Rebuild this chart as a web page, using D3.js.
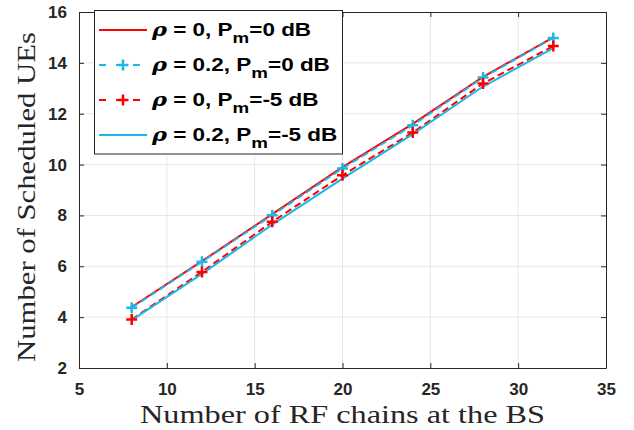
<!DOCTYPE html>
<html>
<head>
<meta charset="utf-8">
<script src="https://cdn.jsdelivr.net/npm/d3@7"></script>
<style>
  body { margin: 0; background: #fff; }
  .tick text { font-family: "Liberation Sans", Arial, sans-serif; font-weight: bold; font-size: 17px; fill: #262626; }
  .axisTitle { font-family: "Liberation Serif", "DejaVu Serif", serif; font-size: 26px; fill: #262626; }
  .legText { font-family: "Liberation Sans", Arial, sans-serif; font-weight: bold; font-size: 18px; fill: #000; }
</style>
</head>
<body>
<svg id="chart" width="634" height="430"></svg>
<script>
// Data
let rfChains = [8, 12, 16, 20, 24, 28, 32],
    rho0_p0 = [4.40, 6.20, 8.05, 9.90, 11.60, 13.45, 15.00],
    rho02_p0 = [4.37, 6.18, 8.01, 9.85, 11.55, 13.42, 14.98],
    rho0_p5 = [3.91, 5.78, 7.75, 9.58, 11.26, 13.19, 14.66],
    rho02_p5 = [3.88, 5.70, 7.64, 9.45, 11.20, 13.07, 14.58],
    xTicks = [5, 10, 15, 20, 25, 30, 35],
    yTicks = [2, 4, 6, 8, 10, 12, 14, 16];

let red = '#ff0000', cyan = '#1cb8e6';

let series = [
    { rho: '0', pm: '=0 dB', values: rho0_p0, color: red, dashed: false, marker: false },
    { rho: '0.2', pm: '=0 dB', values: rho02_p0, color: cyan, dashed: true, marker: true },
    { rho: '0', pm: '=-5 dB', values: rho0_p5, color: red, dashed: true, marker: true },
    { rho: '0.2', pm: '=-5 dB', values: rho02_p5, color: cyan, dashed: false, marker: false }
];

let svg = d3.select('#chart'),
    pLeft = 79, pRight = 606, pTop = 12, pBottom = 368;

let x = d3.scaleLinear().domain([5, 35]).range([pLeft, pRight]),
    y = d3.scaleLinear().domain([2, 16]).range([pBottom, pTop]);

// Grid
svg.append('g').selectAll('line').data(xTicks.slice(1, -1)).enter().append('line')
    .attr('x1', d => x(d)).attr('x2', d => x(d)).attr('y1', pTop).attr('y2', pBottom)
    .attr('stroke', '#e6e6e6').attr('stroke-width', 1);
svg.append('g').selectAll('line').data(yTicks.slice(1, -1)).enter().append('line')
    .attr('y1', d => y(d)).attr('y2', d => y(d)).attr('x1', pLeft).attr('x2', pRight)
    .attr('stroke', '#e6e6e6').attr('stroke-width', 1);

// Axes with inward ticks
let axB = svg.append('g').attr('transform', `translate(0,${pBottom})`)
    .call(d3.axisBottom(x).tickValues(xTicks).tickSizeInner(-5).tickSizeOuter(0).tickPadding(13));
let axL = svg.append('g').attr('transform', `translate(${pLeft},0)`)
    .call(d3.axisLeft(y).tickValues(yTicks).tickSizeInner(-5).tickSizeOuter(0).tickPadding(12));
let axT = svg.append('g').attr('transform', `translate(0,${pTop})`)
    .call(d3.axisTop(x).tickValues(xTicks).tickSizeInner(-5).tickSizeOuter(0).tickFormat(''));
let axR = svg.append('g').attr('transform', `translate(${pRight},0)`)
    .call(d3.axisRight(y).tickValues(yTicks).tickSizeInner(-5).tickSizeOuter(0).tickFormat(''));
[axB, axL, axT, axR].forEach(a => {
    a.selectAll('.domain').attr('stroke', '#262626').attr('stroke-width', 1);
    a.selectAll('.tick line').attr('stroke', '#262626');
});
axB.selectAll('.tick text').attr('dy', '0.8em');

// Lines
let line = d3.line().x((d, i) => x(rfChains[i])).y(d => y(d));
let plot = svg.append('g');

series.forEach(s => {
    plot.append('path')
        .attr('d', line(s.values))
        .attr('fill', 'none')
        .attr('stroke', s.color)
        .attr('stroke-width', 2)
        .attr('stroke-dasharray', s.dashed ? '7,4' : null);
});
series.filter(s => s.marker).forEach(s => {
    plot.append('g').selectAll('path').data(s.values).enter().append('path')
        .attr('d', (d, i) => {
            let cx = x(rfChains[i]), cy = y(d), r = 5.5;
            return `M${cx - r},${cy}H${cx + r}M${cx},${cy - r}V${cy + r}`;
        })
        .attr('stroke', s.color).attr('stroke-width', 2.5).attr('fill', 'none');
});

// Axis titles (Computer Modern is wide, so stretch the serif a bit)
svg.append('text').attr('class', 'axisTitle')
    .attr('x', 140).attr('y', 423)
    .attr('textLength', 405).attr('lengthAdjust', 'spacingAndGlyphs')
    .text('Number of RF chains at the BS');
svg.append('text').attr('class', 'axisTitle')
    .attr('transform', 'translate(35,362) rotate(-90)')
    .attr('textLength', 330).attr('lengthAdjust', 'spacingAndGlyphs')
    .text('Number of Scheduled UEs');

// Legend
let leg = svg.append('g');
leg.append('rect').attr('x', 94.5).attr('y', 10.5).attr('width', 248).attr('height', 143.5)
    .attr('fill', '#fff').attr('stroke', '#262626').attr('stroke-width', 1);

series.forEach((s, i) => {
    let ly = 30 + i * 35;
    leg.append('line').attr('x1', 99).attr('x2', 147).attr('y1', ly).attr('y2', ly)
        .attr('stroke', s.color).attr('stroke-width', 2)
        .attr('stroke-dasharray', s.dashed ? '7,10' : null);
    if (s.marker) {
        leg.append('path').attr('d', `M${117.5},${ly}H${128.5}M${123},${ly - 5.5}V${ly + 5.5}`)
            .attr('stroke', s.color).attr('stroke-width', 2.5);
    }
    let t = leg.append('text').attr('class', 'legText')
        .attr('transform', `translate(152,${ly + 5.5}) scale(1.25,1)`);
    t.append('tspan').attr('font-family', '"DejaVu Serif", serif').attr('font-style', 'italic').text('\u03C1');
    t.append('tspan').text(' = ' + s.rho + ', P');
    t.append('tspan').attr('font-size', 15).attr('dy', 7).text('m');
    t.append('tspan').attr('dy', -7).text(s.pm);
});
</script>
</body>
</html>
